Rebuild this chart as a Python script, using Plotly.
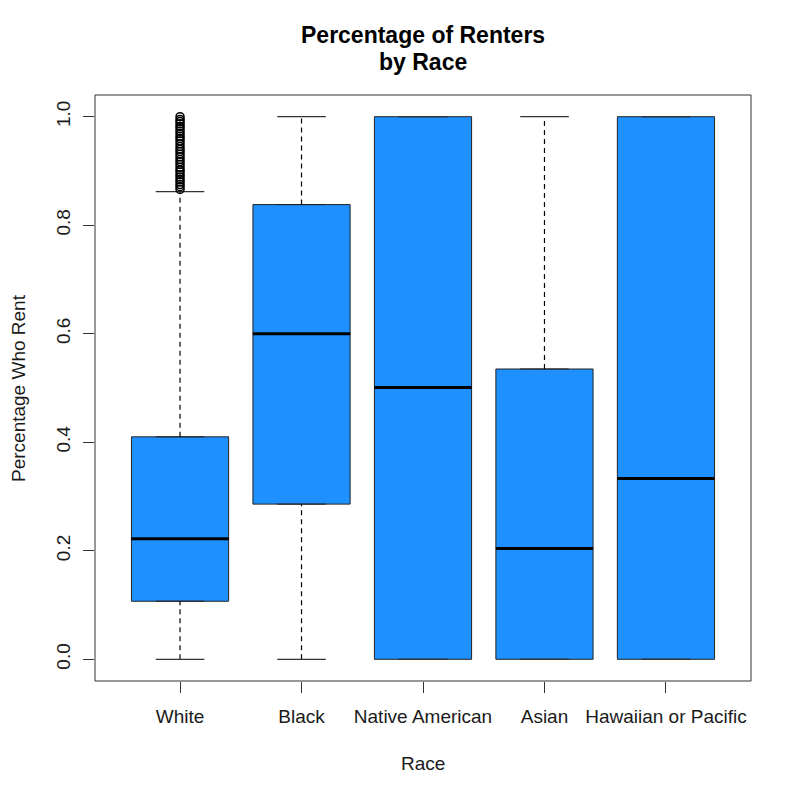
# -*- coding: utf-8 -*-
import plotly.graph_objects as go

# box statistics
races = ["White", "Black", "Native American", "Asian", "Hawaiian or Pacific"]
lower_whisker = [0.0, 0.0, 0.0, 0.0, 0.0]
q1 = [0.107, 0.286, 0.0, 0.0, 0.0]
median = [0.222, 0.600, 0.501, 0.204, 0.333]
q3 = [0.410, 0.838, 1.0, 0.535, 1.0]
upper_whisker = [0.862, 1.0, 1.0, 1.0, 1.0]

# outliers above the White whisker
white_outliers = [0.866, 0.871, 0.875, 0.88, 0.884, 0.889, 0.893, 0.898, 0.902, 0.907,
                  0.912, 0.917, 0.921, 0.926, 0.931, 0.936, 0.94, 0.945, 0.95, 0.955,
                  0.96, 0.964, 0.969, 0.973, 0.978, 0.982, 0.987, 0.991, 0.995, 1.0]

pos = list(range(1, len(races) + 1))
box_w = 0.8
staple_w = 0.4
fill = "#1E90FF"

fig = go.Figure()

# dashed whiskers + staples
for i, p in enumerate(pos):
    fig.add_trace(go.Scatter(x=[p, p], y=[q3[i], upper_whisker[i]], mode="lines",
                             line=dict(color="black", width=1.2, dash="5px,4px"),
                             showlegend=False, hoverinfo="skip"))
    fig.add_trace(go.Scatter(x=[p, p], y=[lower_whisker[i], q1[i]], mode="lines",
                             line=dict(color="black", width=1.2, dash="5px,4px"),
                             showlegend=False, hoverinfo="skip"))
    for v in (lower_whisker[i], upper_whisker[i]):
        fig.add_trace(go.Scatter(x=[p - staple_w / 2, p + staple_w / 2], y=[v, v], mode="lines",
                                 line=dict(color="#333333", width=1.2),
                                 showlegend=False, hoverinfo="skip"))

fig.add_trace(go.Box(x=pos, q1=q1, median=median, q3=q3,
                     lowerfence=q1, upperfence=q3, width=box_w,
                     fillcolor=fill, line=dict(color="#222222", width=1),
                     boxpoints=False, showlegend=False))

# thick median bars
for i, p in enumerate(pos):
    fig.add_trace(go.Scatter(x=[p - box_w / 2, p + box_w / 2], y=[median[i], median[i]],
                             mode="lines", line=dict(color="black", width=3),
                             showlegend=False, hoverinfo="skip"))

fig.add_trace(go.Scatter(x=[pos[0]] * len(white_outliers), y=white_outliers, mode="markers",
                         marker=dict(symbol="circle-open", size=8, color="black",
                                     line=dict(width=1.5)),
                         showlegend=False))

font = "Liberation Sans, Arial, sans-serif"
fig.update_layout(
    width=800, height=799,
    margin=dict(l=87, r=57, t=87, b=126),
    plot_bgcolor="white", paper_bgcolor="white",
    font=dict(family=font, size=19, color="#1a1a1a"),
    xaxis=dict(range=[0.3, 5.7], tickvals=pos, ticktext=races, showgrid=False,
               zeroline=False, showline=False, ticks="outside", ticklen=11,
               tickcolor="#333333", ticklabelstandoff=7),
    yaxis=dict(range=[-0.04, 1.04], tickvals=[0, 0.2, 0.4, 0.6, 0.8, 1.0],
               ticktext=["0.0", "0.2", "0.4", "0.6", "0.8", "1.0"], tickangle=-90,
               showgrid=False, zeroline=False, showline=False, ticks="outside",
               ticklen=11, tickcolor="#333333", ticklabelstandoff=5),
    shapes=[dict(type="rect", xref="paper", yref="paper", x0=0, x1=1, y0=0, y1=1,
                 line=dict(color="#333333", width=1))],
    annotations=[
        dict(text="<b>Percentage of Renters</b>", xref="paper", yref="paper", x=0.5, y=1,
             yanchor="middle", yshift=60, showarrow=False,
             font=dict(size=23, color="black")),
        dict(text="<b>by Race</b>", xref="paper", yref="paper", x=0.5, y=1,
             yanchor="middle", yshift=33, showarrow=False,
             font=dict(size=23, color="black")),
        dict(text="Race", xref="paper", yref="paper", x=0.5, y=0, yanchor="middle",
             yshift=-82, showarrow=False),
        dict(text="Percentage Who Rent", xref="paper", yref="paper", x=0, y=0.5,
             xanchor="center", xshift=-77, textangle=-90, showarrow=False),
    ],
)

fig.write_html("out.html")
